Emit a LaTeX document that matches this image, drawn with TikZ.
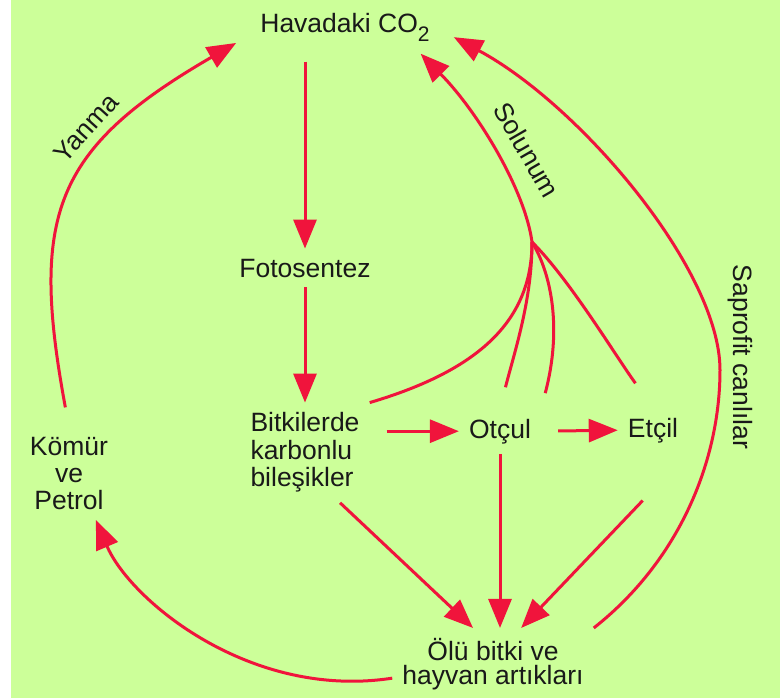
\documentclass[tikz,border=0pt]{standalone}
\usepackage{fontspec}
\setmainfont{Liberation Sans}
\usetikzlibrary{arrows.meta, positioning}
\definecolor{leaf}{RGB}{204,255,153}
\definecolor{cyclered}{RGB}{240,20,60}

\begin{document}
\begin{tikzpicture}[
        x=1pt, y=-1pt,
        lbl/.style={font={\fontsize{26.5}{27.5}\selectfont}, inner sep=10pt, text=black!90},
        flow/.style={cyclered, line width=3pt},
        arrow/.style={flow, -{Triangle[length=29pt, width=23pt]}}
    ]
        % Background
        \useasboundingbox (0,0) rectangle (780,698);
        \fill[leaf] (11,0) rectangle (780,698);

        % Nodes
        \node[lbl, anchor=base, inner xsep=24pt, inner ysep=12pt] (co2) at (345,33) {Havadaki CO\raisebox{-8.5pt}{\fontsize{21}{21}\selectfont 2}};
        \node[lbl, anchor=base] (foto) at (305,277) {Fotosentez};
        \node[lbl, align=left] (bitki) at (305,452.7) {Bitkilerde\\karbonlu\\bileşikler};
        \node[lbl, anchor=base] (otcul) at (500,438) {Otçul};
        \node[lbl, anchor=base] (etcil) at (653,437) {Etçil};
        \node[lbl, align=center, font={\fontsize{26.5}{27}\selectfont}] (komur) at (69,473.5) {Kömür\\ve\\Petrol};
        \node[lbl, align=center, font={\fontsize{26.5}{24}\selectfont}] (olu) at (493,664) {Ölü bitki ve\\hayvan artıkları};
        \coordinate (sol) at (532,242);

        % Labels
        \node[lbl, inner sep=0pt, rotate=48] (yanma) at (86,128) {Yanma};
        \node[lbl, inner sep=0pt, rotate=-60] (solunum) at (527,150) {Solunum};
        \node[lbl, inner sep=0pt, rotate=-90] (saprofit) at (740,357) {Saprofit canlılar};

        % Arrows
        \draw[arrow, shorten <=8pt] (foto.north |- co2.south) -- (foto.north);
        \draw[arrow] (foto.south) -- (bitki.north);
        \draw[arrow, shorten <=17pt] (bitki.east |- otcul.west) -- (otcul.west);
        \draw[arrow, shorten <=17pt] (otcul.east) -- (etcil.west);
        \draw[arrow] (otcul.south) -- (otcul.south |- olu.north);
        \draw[arrow] (bitki.-55) -- (olu.119);
        \draw[arrow, shorten <=66pt] (etcil.south east) -- (olu.52);

        % Cycle curves
        \draw[arrow] (olu.188) .. controls (250,700) and (130,600) .. (komur.-60);
        \draw[arrow, shorten <=20pt] (komur.north) .. controls (30,216) and (53,149) .. (co2.188);
        \draw[arrow] (olu.north east) .. controls (680,560) and (720,460) .. (720,370)
            .. controls (720,270) and (580,105) .. (co2.-5);

        % Respiration
        \draw[arrow] (bitki.north east) .. controls (480,370) and (532,320) .. (sol)
            .. controls (525,190) and (478,112) .. (co2.-19);
        \draw[flow, shorten <=22pt] (otcul.north) .. controls (515,350) and (532,300) .. (sol);
        \draw[flow, shorten <=16pt] (otcul.north east) .. controls (562,330) and (552,275) .. (sol);
        \draw[flow, shorten <=30pt] (etcil.north) .. controls (615,355) and (570,280) .. (sol);
    \end{tikzpicture}
\end{document}
